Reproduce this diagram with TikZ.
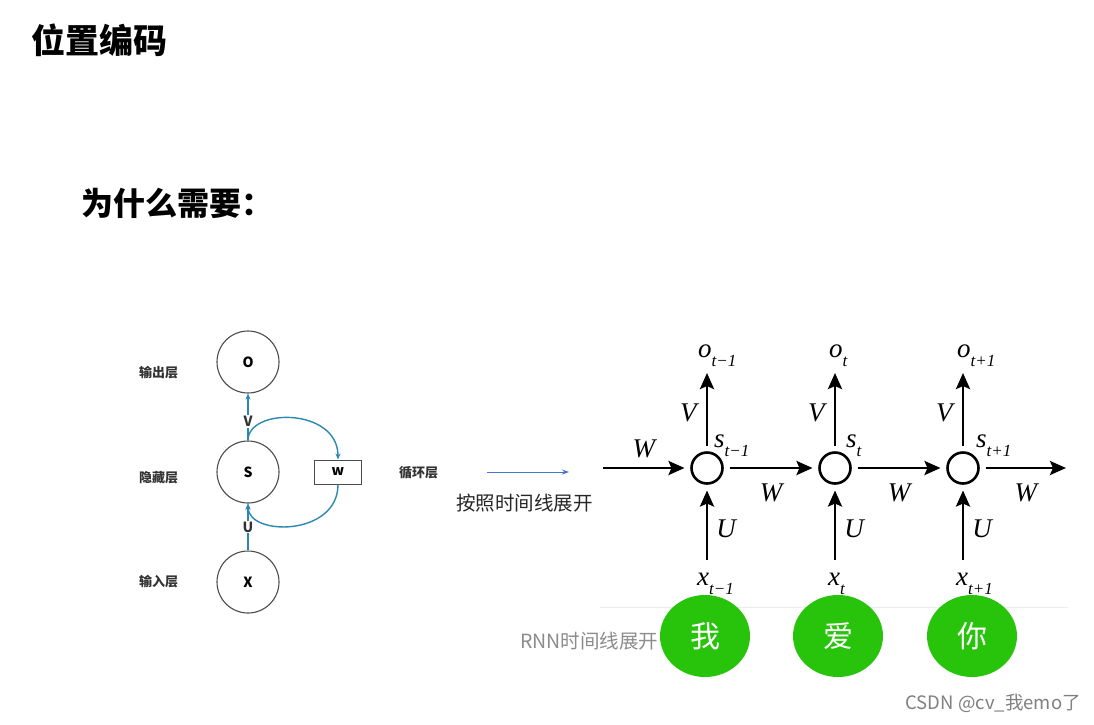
\documentclass[tikz,border=0pt]{standalone}
\usepackage{fontspec}
\newfontfamily\cjk{Noto Sans CJK SC}
\newfontfamily\rnnserif{Liberation Serif}
\usepackage{tikz}
\usetikzlibrary{positioning,arrows.meta,shapes.geometric}
\usepackage{xcolor}
\definecolor{loopteal}{HTML}{2A88B4}
\definecolor{unfoldblue}{HTML}{4A74CC}
\definecolor{wordgreen}{HTML}{28C40C}
\newcommand{\rnnlab}[2]{#1\lower9pt\hbox{\fontsize{17}{20}\selectfont#2}}

\begin{document}
\begin{tikzpicture}[x=1pt, y=-1pt,
    every node/.style={font=\cjk},
    head/.style={font=\cjk\bfseries\fontsize{34}{40}\selectfont, inner sep=0pt},
    subhead/.style={font=\cjk\bfseries\fontsize{32}{38}\selectfont, inner sep=0pt},
    layer/.style={circle, draw=black!70, line width=1.1pt, minimum size=62pt, inner sep=0pt, font=\cjk\bfseries\fontsize{14}{16}\selectfont},
    wbox/.style={draw=black!70, line width=1pt, minimum width=47pt, minimum height=24pt, inner sep=0pt, font=\cjk\bfseries\fontsize{14}{16}\selectfont},
    side/.style={font=\cjk\bfseries\fontsize{13}{15}\selectfont, text=black!80, inner sep=0pt},
    tag/.style={fill=white, inner sep=1pt, font=\cjk\bfseries\fontsize{14}{16}\selectfont, text=black!80},
    tealarr/.style={-{Stealth[length=6pt, width=5pt]}, draw=loopteal, line width=1.4pt},
    cell/.style={circle, draw, line width=2.6pt, minimum size=31pt, inner sep=0pt, outer sep=7pt},
    arr/.style={-{Stealth[length=16pt, width=14pt, inset=3pt]}, line width=2.8pt},
    sym/.style={font=\rnnserif\itshape\fontsize{27}{30}\selectfont, inner sep=0pt},
    word/.style={ellipse, fill=wordgreen, minimum width=90pt, minimum height=82pt, inner sep=0pt, text=white, font=\cjk\fontsize{30}{34}\selectfont}]
  \fill[white] (0,0) rectangle (1094,724);
  \useasboundingbox (0,0) rectangle (1094,724);

  % headings
  \node[head, anchor=west] (title) at (31,40) {位置编码};
  \node[subhead, anchor=west] (why) at (81,203) {为什么需要：};

  % folded network
  \node[layer] (O) at (248,362) {O};
  \node[layer] (S) at (248,472) {S};
  \node[layer] (X) at (248,582) {X};
  \node[wbox] (w) at (338,472) {w};
  \node[side, anchor=west] (outname) at (139,373) {输出层};
  \node[side, anchor=west] (hidname) at (139,478) {隐藏层};
  \node[side, anchor=west] (inname)  at (139,582) {输入层};
  \node[side, anchor=west] (loopname) at (399,473) {循环层};
  \draw[tealarr] (S) -- node[tag, pos=0.4] {V} (O);
  \draw[tealarr] (X) -- node[tag] {U} (S);
  \draw[tealarr] (S.north) .. controls +(0,-33) and +(0,-52) .. (w.north);
  \draw[tealarr] (w.south) .. controls +(0,52) and +(0,33) .. (S.south);

  % unfolding arrow
  \coordinate (unfoldA) at (487,472);
  \coordinate (unfoldB) at (569,472);
  \draw[-{Stealth[length=7pt, width=5pt]}, draw=unfoldblue, line width=0.9pt] (unfoldA) -- (unfoldB);
  \node[font=\cjk\fontsize{19.5}{22}\selectfont, anchor=west, text=black!85, inner sep=0pt] (unfold) at (456,503) {按照时间线展开};

  % unrolled network
  \node[cell] (s1) at (707,468) {};
  \node[cell] (s2) at (835,468) {};
  \node[cell] (s3) at (963,468) {};
  \coordinate (wIn)  at (603,468);
  \coordinate (wOut) at (1066,468);
  \coordinate (top1) at (707,373);
  \coordinate (top2) at (835,373);
  \coordinate (top3) at (963,373);
  \coordinate (bot1) at (707,560);
  \coordinate (bot2) at (835,560);
  \coordinate (bot3) at (963,560);
  \draw[arr] (wIn) -- node[sym, above=9pt] {W} (s1);
  \draw[arr] (s1) -- node[sym, below=14pt] {W} (s2);
  \draw[arr] (s2) -- node[sym, below=14pt] {W} (s3);
  \draw[arr] (s3) -- node[sym, below=14pt] {W} (wOut);
  \draw[arr] (s1) -- node[sym, left=9pt, pos=0.45] {V} (top1);
  \draw[arr] (s2) -- node[sym, left=9pt, pos=0.45] {V} (top2);
  \draw[arr] (s3) -- node[sym, left=9pt, pos=0.45] {V} (top3);
  \draw[arr] (bot1) -- node[sym, right=8pt, pos=0.45] {U} (s1);
  \draw[arr] (bot2) -- node[sym, right=8pt, pos=0.45] {U} (s2);
  \draw[arr] (bot3) -- node[sym, right=8pt, pos=0.45] {U} (s3);
  \node[sym, anchor=base west] (o1) at (698,357) {\rnnlab{o}{t−1}};
  \node[sym, anchor=base west] (o2) at (829,357) {\rnnlab{o}{t}};
  \node[sym, anchor=base west] (o3) at (957,357) {\rnnlab{o}{t+1}};
  \node[sym, anchor=base west] (sl1) at (714,447) {\rnnlab{s}{t−1}};
  \node[sym, anchor=base west] (sl2) at (846,447) {\rnnlab{s}{t}};
  \node[sym, anchor=base west] (sl3) at (976,447) {\rnnlab{s}{t+1}};
  \node[sym, anchor=base west] (x1) at (697,585) {\rnnlab{x}{t−1}};
  \node[sym, anchor=base west] (x2) at (828,585) {\rnnlab{x}{t}};
  \node[sym, anchor=base west] (x3) at (956,585) {\rnnlab{x}{t+1}};

  % words
  \node[anchor=west, font=\cjk\fontsize{19.5}{22}\selectfont, text=black!45, inner sep=0pt] (caption) at (520,641) {RNN时间线展开};
  \draw[black!7] (600,607) -- (1068,607);
  \node[word] (wo) at (705,636) {我};
  \node[word] (ai) at (838,636) {爱};
  \node[word] (ni) at (972,636) {你};
  \node[anchor=east, font=\cjk\fontsize{18.5}{20}\selectfont, text=black!50, inner sep=0pt] (mark) at (1081,703) {CSDN @cv\_我emo了};
\end{tikzpicture}
\end{document}
